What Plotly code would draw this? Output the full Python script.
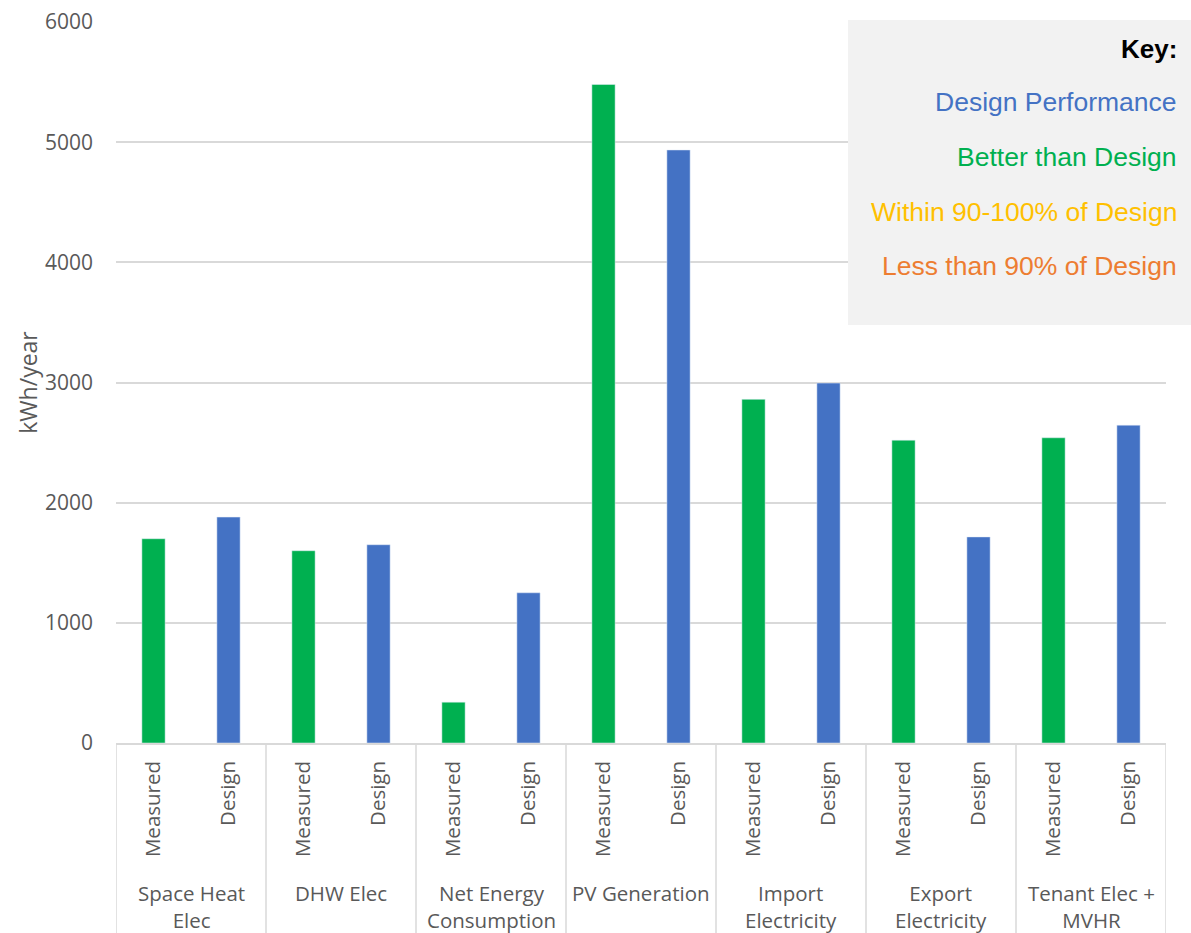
import plotly.graph_objects as go

# Energy categories (two-line labels where they wrap)
groups = [
    "Space Heat<br>Elec",
    "DHW Elec",
    "Net Energy<br>Consumption",
    "PV Generation",
    "Import<br>Electricity",
    "Export<br>Electricity",
    "Tenant Elec +<br>MVHR",
]
bar_kinds = ["Measured", "Design"]

# kWh/year values
measured = [1700, 1600, 340, 5480, 2860, 2520, 2540]
design = [1880, 1650, 1250, 4935, 2995, 1715, 2645]

y_ticks = [0, 1000, 2000, 3000, 4000, 5000, 6000]

key_items = [
    ("Design Performance", "#4472C4"),
    ("Better than Design", "#00B050"),
    ("Within 90-100% of Design", "#FFC000"),
    ("Less than 90% of Design", "#ED7D31"),
]

GREEN = "#00B050"
BLUE = "#4472C4"
GRID = "#D9D9D9"
TXT = "#595959"
FONT = "Open Sans, sans-serif"
KEY_FONT = "Liberation Sans, Arial, sans-serif"

n = len(groups)
x_meas = [2 * i for i in range(n)]
x_des = [2 * i + 1 for i in range(n)]

fig = go.Figure()
fig.add_trace(go.Bar(x=x_meas, y=measured, marker_color=GREEN, width=0.31,
                     name="Measured", showlegend=False))
fig.add_trace(go.Bar(x=x_des, y=design, marker_color=BLUE, width=0.31,
                     name="Design", showlegend=False))

tickvals = list(range(2 * n))
ticktext = [bar_kinds[i % 2] for i in tickvals]

fig.update_layout(
    width=1191, height=933,
    margin=dict(l=116, r=25, t=22, b=190),
    paper_bgcolor="white", plot_bgcolor="white",
    font=dict(family=FONT, color=TXT),
    xaxis=dict(
        range=[-0.5, 2 * n - 0.5], automargin=False,
        tickmode="array", tickvals=tickvals, ticktext=ticktext,
        tickangle=-90, tickfont=dict(size=20.5, color=TXT),
        showgrid=False, zeroline=False, showline=True, linecolor=GRID,
        linewidth=1.5, ticks="", ticklabelstandoff=8,
    ),
    yaxis=dict(
        range=[0, 6000], tickmode="array", tickvals=y_ticks, automargin=False,
        tickfont=dict(size=21, color=TXT), showgrid=True, gridcolor=GRID,
        gridwidth=1.5, zeroline=False, showline=False, ticks="",
        ticklabelstandoff=22,
        title=dict(text="kWh/year", font=dict(size=23, color=TXT), standoff=0),
    ),
)

shapes = []
# group divider lines below the axis
for k in range(n + 1):
    xv = 2 * k - 0.5
    shapes.append(dict(type="line", xref="x", yref="paper", x0=xv, x1=xv,
                       y0=0, y1=-0.3, line=dict(color=GRID, width=1.5)))
# key panel
shapes.append(dict(type="rect", xref="paper", yref="paper",
                   x0=(848 - 116) / 1050, x1=(1191 - 116) / 1050,
                   y0=(743 - 325) / 721, y1=(743 - 20) / 721,
                   fillcolor="#F2F2F2", line=dict(width=0), layer="above"))

annotations = []
for i, g in enumerate(groups):
    annotations.append(dict(
        x=2 * i + 0.5, xref="x", y=-(877 - 743) / 721, yref="paper",
        text=g, showarrow=False, xanchor="center", yanchor="top",
        font=dict(size=20.5, color=TXT, family=FONT),
    ))

key_x = (1179 - 116) / 1050
annotations.append(dict(
    x=key_x, xref="paper", y=(743 - 49) / 721, yref="paper",
    text="<b>Key:</b>", showarrow=False, xanchor="right", yanchor="middle",
    font=dict(size=26, color="black", family=KEY_FONT),
))
for j, (label, col) in enumerate(key_items):
    yc = [102, 157, 212, 266][j]
    annotations.append(dict(
        x=key_x, xref="paper", y=(743 - yc) / 721, yref="paper",
        text=label, showarrow=False, xanchor="right", yanchor="middle",
        font=dict(size=26.5, color=col, family=KEY_FONT),
    ))

fig.update_layout(shapes=shapes, annotations=annotations)
fig.write_html("out.html")
